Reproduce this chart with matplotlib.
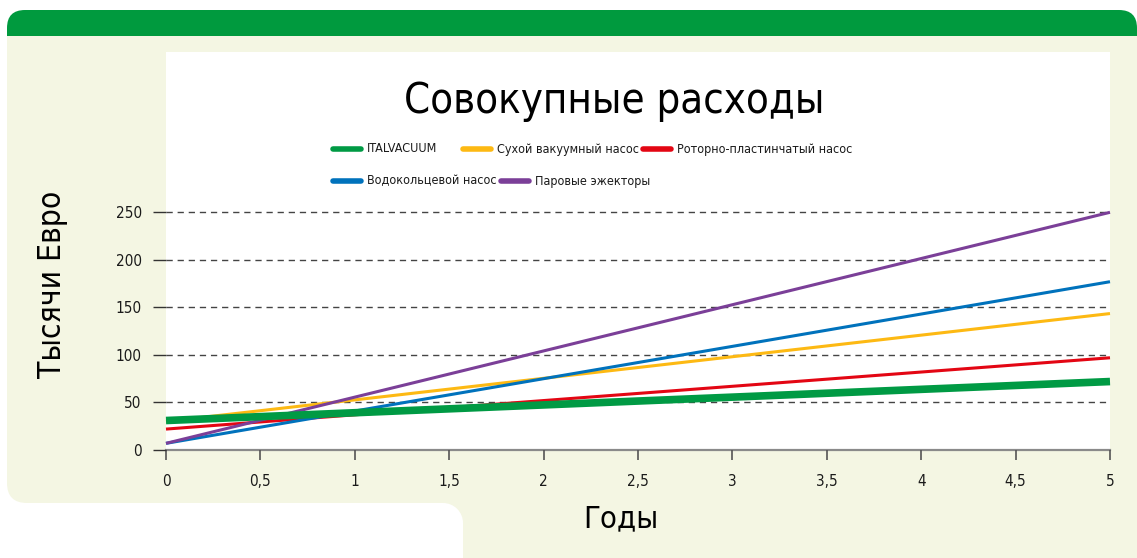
import matplotlib
matplotlib.use("Agg")
import matplotlib.pyplot as plt
from matplotlib import font_manager
from matplotlib.font_manager import FontProperties
from matplotlib.patches import FancyBboxPatch, Rectangle, Circle
from matplotlib.lines import Line2D

plt.rcParams['font.family'] = ['Liberation Sans', 'DejaVu Sans']

# look for a narrow/condensed regular sans face if installed
narrow_path = None
for f in font_manager.fontManager.ttflist:
    p = f.fname.lower()
    if ("narrow" in p or "condensed" in p) and "bold" not in p and "oblique" not in p \
            and "italic" not in p and "sans" in p and "mono" not in p:
        narrow_path = f.fname
        break

# ---- data ----
years = [0, 5]
italvacuum = [31, 72]
dry_pump = [30, 143.5]
rotary_vane = [22, 97]
liquid_ring = [7, 177]
steam_ejector = [7, 250]

series_names = ["ITALVACUUM", "Сухой вакуумный насос", "Роторно-пластинчатый насос",
                "Водокольцевой насос", "Паровые эжекторы"]
series_values = [italvacuum, dry_pump, rotary_vane, liquid_ring, steam_ejector]
colors = ["#009A44", "#FDB913", "#E30613", "#0072BC", "#7B3F98"]

x_ticks = [0, 0.5, 1, 1.5, 2, 2.5, 3, 3.5, 4, 4.5, 5]
x_tick_labels = ["0", "0,5", "1", "1,5", "2", "2,5", "3", "3,5", "4", "4,5", "5"]
y_ticks = [0, 50, 100, 150, 200, 250]
y_tick_labels = ["0", "50", "100", "150", "200", "250"]

title = "Совокупные расходы"
xlabel = "Годы"
ylabel = "Тысячи Евро"


def fp(size, narrow_size=None):
    if narrow_path is not None:
        return FontProperties(fname=narrow_path, size=narrow_size or size * 1.15)
    return FontProperties(family=['Liberation Sans', 'DejaVu Sans'], size=size)


W, H = 1137, 558
fig = plt.figure(figsize=(W / 100, H / 100), dpi=100)
fig.patch.set_facecolor("white")

# ---- background decoration (pixel coords) ----
bg = fig.add_axes([0, 0, 1, 1], zorder=0)
bg.set_xlim(0, W)
bg.set_ylim(H, 0)
bg.axis("off")
cream = "#F4F6E3"
green = "#009A3E"
bg.add_patch(FancyBboxPatch((7, 10), W - 7, 60, boxstyle="round,pad=0,rounding_size=18",
                            fc=green, ec="none"))
bg.add_patch(FancyBboxPatch((7, 36), W + 30, 467, boxstyle="round,pad=0,rounding_size=20",
                            fc=cream, ec="none"))
bg.add_patch(Rectangle((7, 36), W, 60, fc=cream, ec="none"))
bg.add_patch(Rectangle((W - 30, 36), 30, 500, fc=cream, ec="none"))
bg.add_patch(FancyBboxPatch((463, 450), W, 200, boxstyle="round,pad=0,rounding_size=20",
                            fc=cream, ec="none"))
bg.add_patch(Rectangle((443, 495), 22, 28, fc=cream, ec="none"))
bg.add_patch(Circle((443, 523), 20, fc="white", ec="none"))
bg.add_patch(Rectangle((7, 503), 436, 60, fc="white", ec="none"))

# ---- main axes ----
L, R, T, B = 166, 1110, 52, 450
ax = fig.add_axes([L / W, 1 - B / H, (R - L) / W, (B - T) / H], zorder=1)
ax.set_facecolor("white")
ax.set_xlim(0, 5)
ax.set_ylim(0, 418.6)

zorders = [10, 3, 4, 5, 6]
widths = [5.5, 2.2, 2.2, 2.2, 2.2]
for vals, c, z, lw in zip(series_values, colors, zorders, widths):
    ax.plot(years, vals, color=c, lw=lw, zorder=z, solid_capstyle="butt", clip_on=False)

for yv in y_ticks[1:]:
    ax.axhline(yv, color="#444444", lw=1.0, ls=(0, (4.5, 3.5)), zorder=1)

for s in ["top", "right", "left"]:
    ax.spines[s].set_visible(False)
ax.spines["bottom"].set_color("#8a8a8a")
ax.spines["bottom"].set_linewidth(1.6)
ax.spines["bottom"].set_zorder(0.5)

ax.set_xticks(x_ticks)
ax.set_yticks(y_ticks)
ax.set_xticklabels(x_tick_labels, fontproperties=fp(10, 11))
ax.set_yticklabels(y_tick_labels, fontproperties=fp(10, 11))
ax.tick_params(axis="x", direction="out", length=7.5, width=1.2, color="#555555",
               pad=10, labelcolor="#1a1a1a")
ax.tick_params(axis="y", direction="out", length=9.5, width=1.0, color="#333333",
               pad=8, labelcolor="#1a1a1a")

# title
ax.text((614 - L) / (R - L), (B - 101) / (B - T), title, transform=ax.transAxes,
        ha="center", va="center", fontproperties=fp(29, 30), color="black")

# legend (manual layout)
leg_rows = [149, 149, 149, 181, 181]
leg_x = [333, 463, 643, 333, 501]
for name, c, px, py in zip(series_names, colors, leg_x, leg_rows):
    fx0 = (px - L) / (R - L)
    fx1 = (px + 28 - L) / (R - L)
    fy = (B - py) / (B - T)
    ax.add_line(Line2D([fx0, fx1], [fy, fy], transform=ax.transAxes, color=c, lw=4,
                       solid_capstyle="round", clip_on=False, zorder=20))
    ax.text((px + 34 - L) / (R - L), fy, name, transform=ax.transAxes, ha="left",
            va="center", fontproperties=fp(8.5, 9.0), color="#1a1a1a", zorder=20)

# axis labels
fig.text(52 / W, 1 - 284 / H, ylabel, rotation=90, ha="center", va="center",
         fontproperties=fp(22, 22.8), color="black")
fig.text(621 / W, 1 - 519 / H, xlabel, ha="center", va="center",
         fontproperties=fp(22, 22.2), color="black")

fig.savefig("out.png", dpi=100, facecolor="white")
